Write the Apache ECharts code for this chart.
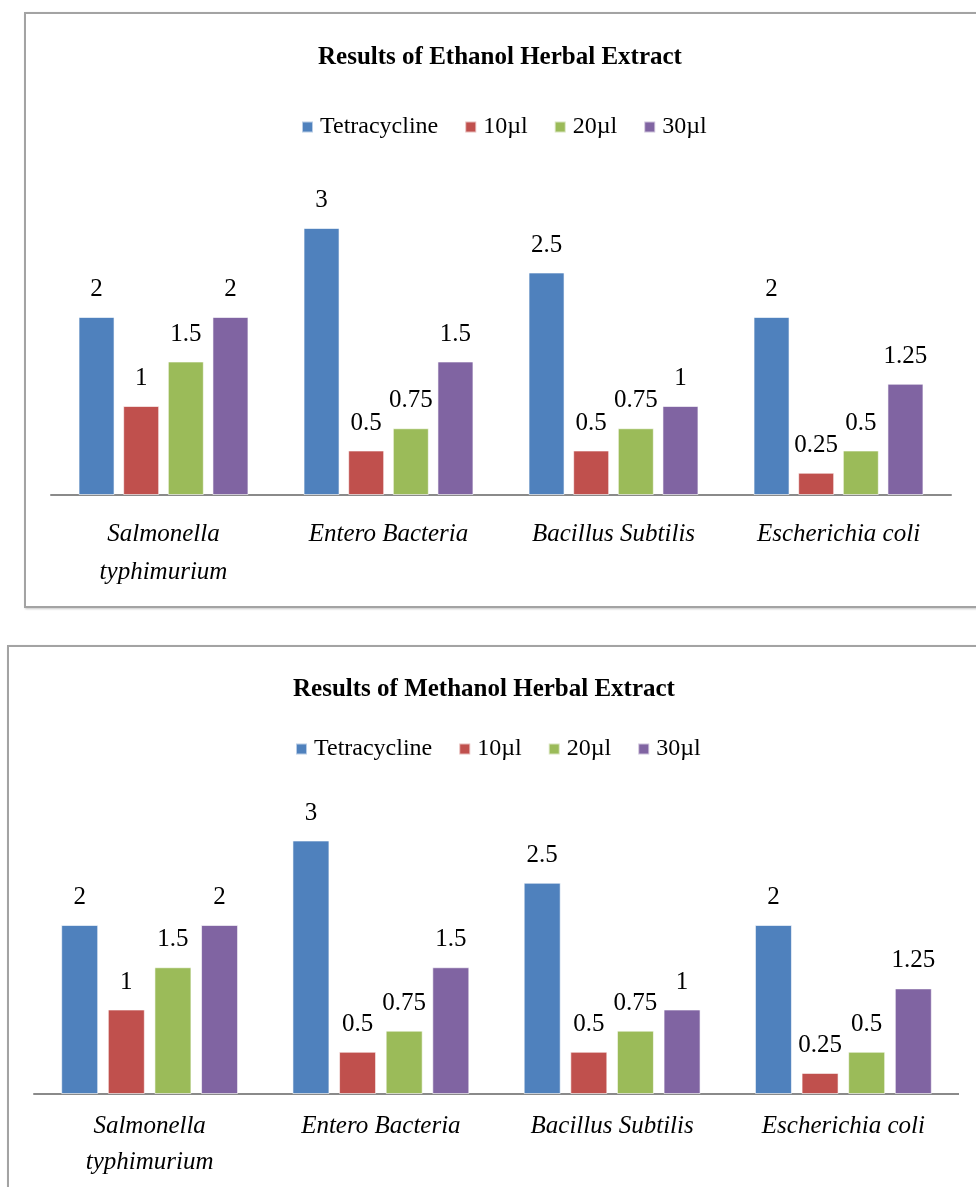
<!DOCTYPE html>
<html>
<head>
<meta charset="utf-8">
<script src="https://cdn.jsdelivr.net/npm/echarts@6/dist/echarts.min.js"></script>
<style>
  html, body { margin: 0; padding: 0; background: #fff; overflow: hidden; width: 976px; height: 1187px; }
  .box { position: absolute; border: 2px solid #a3a3a3; box-shadow: 1px 1px 2px #c8c8c8; background: #fff; }
  #box1 { left: 24px; top: 12px; width: 990px; height: 592px; }
  #box2 { left: 7px; top: 645px; width: 1000px; height: 600px; }
  #ch1 { width: 948px; height: 592px; }
  #ch2 { width: 950px; height: 600px; }
</style>
</head>
<body>
<div class="box" id="box1"><div id="ch1"></div></div>
<div class="box" id="box2"><div id="ch2"></div></div>
<script>
// Zone of inhibition results
var categories = ["Salmonella\ntyphimurium", "Entero Bacteria", "Bacillus Subtilis", "Escherichia coli"];
var seriesNames = ["Tetracycline", "10µl", "20µl", "30µl"];
var colors = ["#4f81bd", "#c0504d", "#9bbb59", "#8064a2"];

var ethanolTetracycline = [2, 3, 2.5, 2];
var ethanol10 = [1, 0.5, 0.5, 0.25];
var ethanol20 = [1.5, 0.75, 0.75, 0.5];
var ethanol30 = [2, 1.5, 1, 1.25];

var methanolTetracycline = [2, 3, 2.5, 2];
var methanol10 = [1, 0.5, 0.5, 0.25];
var methanol20 = [1.5, 0.75, 0.75, 0.5];
var methanol30 = [2, 1.5, 1, 1.25];

var FONT = "'Liberation Serif', 'Times New Roman', serif";

function build(title, data, g) {
  return {
    animation: false,
    title: {
      text: title, left: "center", top: g.titleTop,
      textStyle: { fontFamily: FONT, fontSize: 25, fontWeight: "bold", color: "#000" }
    },
    legend: {
      left: g.legendLeft, top: g.legendTop, icon: "rect", itemWidth: 11, itemHeight: 11, itemGap: 26,
      data: seriesNames,
      textStyle: { fontFamily: FONT, fontSize: 24, color: "#000", padding: [0, 0, 0, 2] }
    },
    grid: { left: g.left, width: g.width, top: g.top, height: g.height },
    xAxis: {
      type: "category", data: categories,
      axisLine: { lineStyle: { color: "#8a8a8a", width: 2 } },
      axisTick: { show: false },
      axisLabel: { fontFamily: FONT, fontStyle: "italic", fontSize: 25, color: "#000",
        margin: g.labelMargin, lineHeight: g.lineHeight, interval: 0 }
    },
    yAxis: { type: "value", min: 0, max: 4, show: false, splitLine: { show: false } },
    series: data.map(function (vals, i) {
      return {
        name: seriesNames[i], type: "bar", data: vals, barWidth: g.barWidth, barGap: g.barGap,
        itemStyle: { color: colors[i], borderColor: "rgba(255,255,255,0.6)", borderWidth: 1 },
        label: { show: true, position: "top", distance: 15, fontFamily: FONT, fontSize: 25, color: "#000" }
      };
    })
  };
}

var c1 = echarts.init(document.getElementById("ch1"));
c1.setOption(build("Results of Ethanol Herbal Extract",
  [ethanolTetracycline, ethanol10, ethanol20, ethanol30],
  { titleTop: 26, legendLeft: 270, legendTop: 96, left: 25, width: 900, top: 125, height: 356,
    barWidth: 36, barGap: "24%", labelMargin: 20, lineHeight: 38 }));

var c2 = echarts.init(document.getElementById("ch2"));
c2.setOption(build("Results of Methanol Herbal Extract",
  [methanolTetracycline, methanol10, methanol20, methanol30],
  { titleTop: 25, legendLeft: 281, legendTop: 85, left: 25, width: 932, top: 109, height: 338,
    barWidth: 37, barGap: "26%", labelMargin: 14, lineHeight: 36 }));
</script>
</body>
</html>
